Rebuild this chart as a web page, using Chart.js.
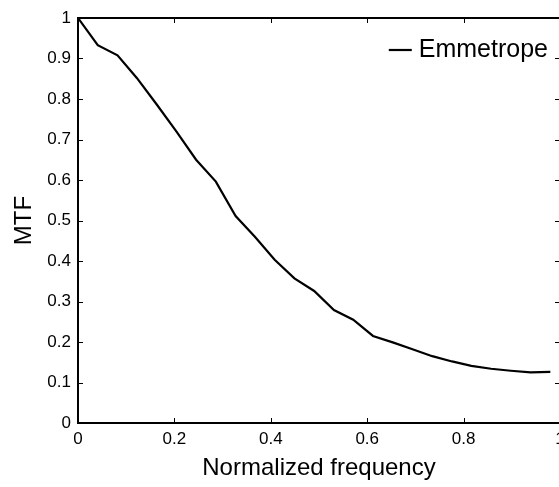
<!DOCTYPE html>
<html>
<head>
<meta charset="utf-8">
<script src="https://cdn.jsdelivr.net/npm/chart.js@4.4.0/dist/chart.umd.min.js"></script>
<style>
  html, body { margin: 0; padding: 0; background: #fff; overflow: hidden; }
  /* canvas is a bit wider than the window, the figure's right edge is cropped */
  #wrap { position: relative; width: 600px; height: 487px; }
</style>
</head>
<body>
<div id="wrap"><canvas id="mtf-chart"></canvas></div>
<script>
// values
const freq = [0, 0.041, 0.082, 0.122, 0.163, 0.204, 0.245, 0.286, 0.327, 0.367,
  0.408, 0.449, 0.49, 0.531, 0.571, 0.612, 0.653, 0.694, 0.735, 0.776,
  0.816, 0.857, 0.898, 0.939, 0.98];
const mtf = [1.0, 0.933, 0.908, 0.852, 0.787, 0.72, 0.65, 0.596, 0.511, 0.46,
  0.403, 0.357, 0.326, 0.279, 0.255, 0.215, 0.199, 0.182, 0.165, 0.152,
  0.141, 0.134, 0.129, 0.125, 0.126];
const xTicks = [0, 0.2, 0.4, 0.6, 0.8, 1];
const yTicks = [0, 0.1, 0.2, 0.3, 0.4, 0.5, 0.6, 0.7, 0.8, 0.9, 1];
const seriesLabel = 'Emmetrope';

const FONT = '"Liberation Sans", Arial, Helvetica, sans-serif';

// plain tick text, "0", "0.1", ..., "1"
const tickText = v => String(Number(v.toFixed(2)));

// Box round the axes, inward tick marks and the legend (MATLAB look)
const framePlugin = {
  id: 'frame',
  afterDraw(chart) {
    const {ctx, chartArea: a, scales} = chart;
    const len = 5;
    ctx.save();
    ctx.strokeStyle = '#000';
    ctx.lineWidth = 1;
    ctx.beginPath();
    scales.x.ticks.forEach(t => {
      const px = Math.round(scales.x.getPixelForValue(t.value)) + 0.5;
      ctx.moveTo(px, a.bottom); ctx.lineTo(px, a.bottom - len);
      ctx.moveTo(px, a.top); ctx.lineTo(px, a.top + len);
    });
    scales.y.ticks.forEach(t => {
      const py = Math.round(scales.y.getPixelForValue(t.value)) + 0.5;
      ctx.moveTo(a.left, py); ctx.lineTo(a.left + len, py);
      ctx.moveTo(a.right, py); ctx.lineTo(a.right - len, py);
    });
    ctx.stroke();
    ctx.lineWidth = 2;
    ctx.strokeRect(a.left, a.top, a.right - a.left, a.bottom - a.top);

    // legend, top right inside the axes, no box
    const ds = chart.data.datasets[0];
    ctx.font = '25px ' + FONT;
    ctx.fillStyle = '#000';
    ctx.textAlign = 'right';
    ctx.textBaseline = 'middle';
    const textRight = a.right - 12;
    const ly = a.top + 32;
    ctx.fillText(ds.label, textRight, ly);
    const tw = ctx.measureText(ds.label).width;
    ctx.lineWidth = ds.borderWidth;
    ctx.strokeStyle = ds.borderColor;
    ctx.beginPath();
    ctx.moveTo(textRight - tw - 30, ly);
    ctx.lineTo(textRight - tw - 7, ly);
    ctx.stroke();
    ctx.restore();
  }
};

new Chart(document.getElementById('mtf-chart').getContext('2d'), {
  type: 'line',
  data: {
    datasets: [{
      label: seriesLabel,
      data: freq.map((f, i) => ({x: f, y: mtf[i]})),
      borderColor: '#000000',
      borderWidth: 2.2,
      pointRadius: 0,
      tension: 0,
      fill: false
    }]
  },
  options: {
    responsive: true,
    maintainAspectRatio: false,
    animation: false,
    layout: { padding: { top: 18, right: 40, left: 0, bottom: 0 } },
    plugins: {
      legend: { display: false },
      tooltip: { enabled: false }
    },
    scales: {
      x: {
        type: 'linear',
        min: 0,
        max: 1,
        afterBuildTicks: s => { s.ticks = xTicks.map(v => ({value: v})); },
        afterFit: s => { s.height = 64; },
        grid: { display: false, drawTicks: false },
        border: { display: false },
        ticks: { color: '#000', padding: 6, maxRotation: 0, callback: tickText,
          font: { family: FONT, size: 17 } },
        title: {
          display: true,
          text: 'Normalized frequency',
          color: '#000',
          font: { family: FONT, size: 24 },
          padding: { top: 0, bottom: 4 }
        }
      },
      y: {
        min: 0,
        max: 1,
        afterBuildTicks: s => { s.ticks = yTicks.map(v => ({value: v})); },
        afterFit: s => { s.width = 78; },
        grid: { display: false, drawTicks: false },
        border: { display: false },
        ticks: { color: '#000', padding: 7, callback: tickText,
          font: { family: FONT, size: 17 } },
        title: {
          display: true,
          text: 'MTF',
          color: '#000',
          font: { family: FONT, size: 24 },
          padding: { top: 10, bottom: 0 }
        }
      }
    }
  },
  plugins: [framePlugin]
});
</script>
</body>
</html>
